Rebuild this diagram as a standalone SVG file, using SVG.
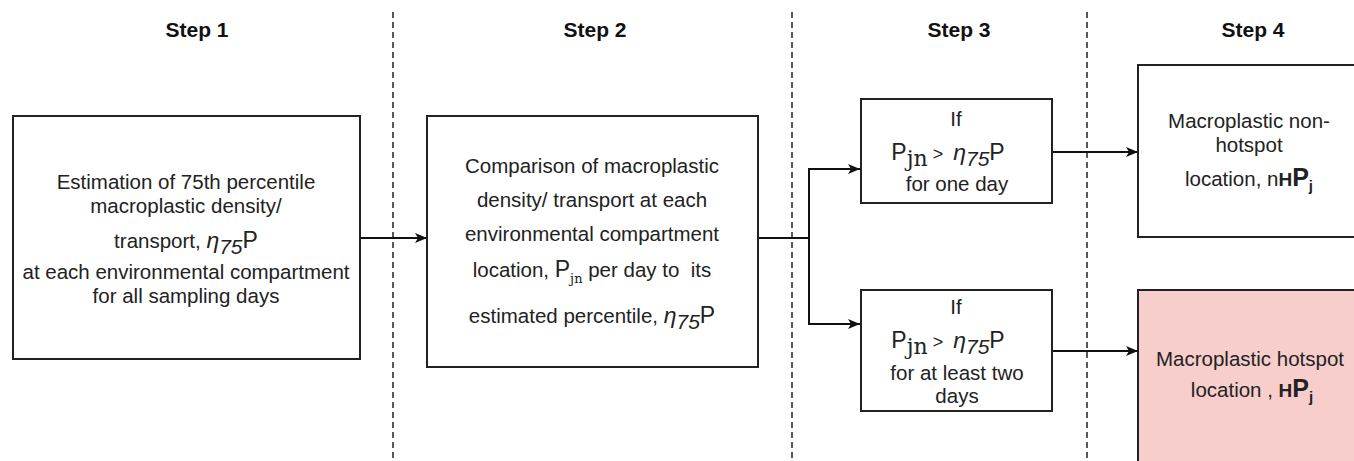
<svg xmlns="http://www.w3.org/2000/svg" width="1354" height="461" viewBox="0 0 1354 461">
<style>
.box{fill:#ffffff;stroke:#222;stroke-width:2}
.hot{fill:#F8CECC;stroke:#222;stroke-width:2}
.t{font-family:"Liberation Sans",Arial,sans-serif;font-size:20.5px;fill:#222;text-anchor:middle}
.pre{white-space:pre}
.step{font-family:"Liberation Sans",Arial,sans-serif;font-size:21px;font-weight:bold;fill:#111;text-anchor:middle}
.eta{font-style:italic;font-size:23px}
.sub75{font-style:italic;font-size:21px}
.big{font-size:23px}
.jn{font-family:"DejaVu Serif","Liberation Serif",serif;font-size:22px}
.jns{font-family:"DejaVu Serif","Liberation Serif",serif;font-size:13px}
.gt{font-size:18px}
.dash{stroke:#222;stroke-width:1.5;stroke-dasharray:6 4;fill:none}
.con{stroke:#111;stroke-width:2;fill:none}
</style>
<defs>
<marker id="arr" viewBox="0 0 12 10" refX="12" refY="5" markerWidth="12" markerHeight="10" markerUnits="userSpaceOnUse" orient="auto">
<path d="M0,0 L12,5 L0,10 L3,5 z" fill="#111"/>
</marker>
</defs>
<rect width="1354" height="461" fill="#ffffff"/>
<g id="dividers">
<line class="dash" x1="393" y1="12" x2="393" y2="461"/>
<line class="dash" x1="792" y1="12" x2="792" y2="461"/>
<line class="dash" x1="1087" y1="12" x2="1087" y2="461"/>
</g>
<g id="headers">
<text class="step" x="197" y="37">Step 1</text>
<text class="step" x="595" y="37">Step 2</text>
<text class="step" x="959" y="37">Step 3</text>
<text class="step" x="1253" y="37">Step 4</text>
</g>
<g id="connectors">
<line class="con" x1="360" y1="238" x2="427" y2="238" marker-end="url(#arr)"/>
<path class="con" d="M758,238 H809 V169 H860" marker-end="url(#arr)"/>
<path class="con" d="M809,238 V324 H860" marker-end="url(#arr)"/>
<line class="con" x1="1052" y1="152" x2="1138" y2="152" marker-end="url(#arr)"/>
<line class="con" x1="1052" y1="351" x2="1138" y2="351" marker-end="url(#arr)"/>
</g>
<g id="node-step1">
<rect class="box" x="13" y="116" width="347" height="243"/>
<text class="t" x="186" y="189">Estimation of 75th percentile</text>
<text class="t" x="186" y="213">macroplastic density/</text>
<text class="t pre" x="186" y="248">transport, <tspan class="eta">η</tspan><tspan class="sub75" dy="6">75</tspan><tspan class="big" dy="-6">P</tspan></text>
<text class="t" x="186" y="279">at each environmental compartment</text>
<text class="t" x="186" y="303">for all sampling days</text>
</g>
<g id="node-step2">
<rect class="box" x="427" y="116" width="331" height="251"/>
<text class="t" x="592" y="173">Comparison of macroplastic</text>
<text class="t" x="592" y="207">density/ transport at each</text>
<text class="t" x="592" y="241">environmental compartment</text>
<text class="t pre" x="592" y="277">location, <tspan class="big">P</tspan><tspan class="jns" dy="6">jn</tspan><tspan dy="-6"> per day to  its</tspan></text>
<text class="t pre" x="592" y="323">estimated percentile, <tspan class="eta">η</tspan><tspan class="sub75" dy="6">75</tspan><tspan class="big" dy="-6">P</tspan></text>
</g>
<g id="node-step3-one-day">
<rect class="box" x="861" y="99" width="191" height="104"/>
<text class="t" x="956" y="126">If</text>
<text class="t pre" x="948" y="160"><tspan class="big">P</tspan><tspan class="jn" dy="6">jn</tspan><tspan class="gt" dy="-6"> &gt;  </tspan><tspan class="eta">η</tspan><tspan class="sub75" dy="6">75</tspan><tspan class="big" dy="-6">P</tspan></text>
<text class="t" x="957" y="191">for one day</text>
</g>
<g id="node-step3-two-days">
<rect class="box" x="861" y="290" width="191" height="121"/>
<text class="t" x="956" y="314">If</text>
<text class="t pre" x="948" y="348"><tspan class="big">P</tspan><tspan class="jn" dy="6">jn</tspan><tspan class="gt" dy="-6"> &gt;  </tspan><tspan class="eta">η</tspan><tspan class="sub75" dy="6">75</tspan><tspan class="big" dy="-6">P</tspan></text>
<text class="t" x="957" y="380">for at least two</text>
<text class="t" x="957" y="403">days</text>
</g>
<g id="node-step4-nonhotspot">
<rect class="box" x="1138" y="65" width="230" height="172"/>
<text class="t" x="1249" y="128">Macroplastic non-</text>
<text class="t" x="1249" y="152">hotspot</text>
<text class="t" x="1249" y="186">location, n<tspan font-weight="bold" font-size="19">H</tspan><tspan font-weight="bold" font-size="25">P</tspan><tspan font-weight="bold" font-size="15" dy="5">j</tspan></text>
</g>
<g id="node-step4-hotspot">
<rect class="hot" x="1138" y="290" width="230" height="190"/>
<text class="t" x="1250" y="366">Macroplastic hotspot</text>
<text class="t" x="1252" y="397">location , <tspan font-weight="bold" font-size="19">H</tspan><tspan font-weight="bold" font-size="25">P</tspan><tspan font-weight="bold" font-size="15" dy="5">j</tspan></text>
</g>
</svg>
